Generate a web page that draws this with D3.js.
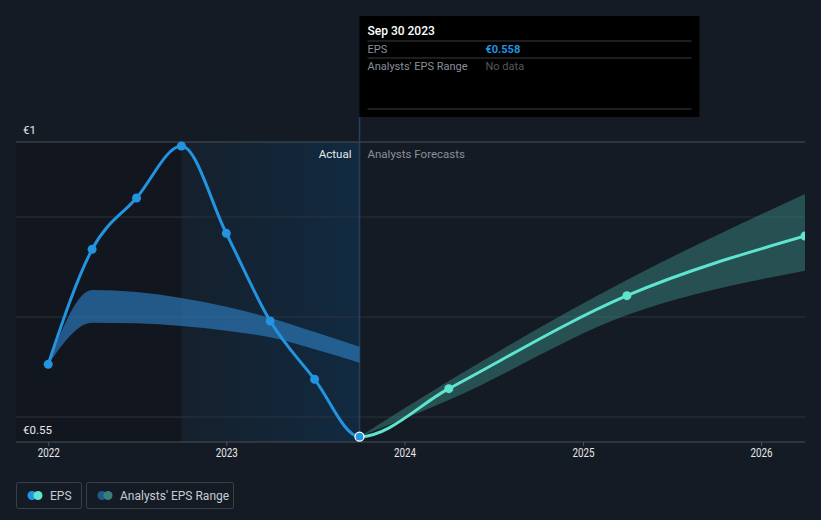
<!DOCTYPE html>
<html><head><meta charset="utf-8">
<script src="https://cdn.jsdelivr.net/npm/d3@7/dist/d3.min.js"></script>
<style>
html,body{margin:0;padding:0;background:#151b25;}
svg{display:block;font-family:Roboto,"Noto Sans",sans-serif;}
</style></head><body>
<svg id="c" width="821" height="520"></svg>
<script>
// ---- data ----
const actualDates = ["2021-12-31","2022-03-31","2022-06-30","2022-09-30","2022-12-31","2023-03-31","2023-06-30","2023-09-30"];
const actualEps   = [0.6665, 0.839, 0.916, 0.994, 0.863, 0.7315, 0.644, 0.558];
const pastRangeDates = ["2021-12-31","2022-03-31","2022-06-30","2022-09-30","2022-12-31","2023-03-31","2023-06-30","2023-09-30"];
const pastRangeLow   = [0.6665, 0.729, 0.728, 0.724, 0.717, 0.707, 0.689, 0.669];
const pastRangeHigh  = [0.6665, 0.778, 0.775, 0.766, 0.753, 0.736, 0.715, 0.693];
const forecastDates = ["2023-09-30","2024-03-31","2025-03-31","2026-03-31"];
const forecastEps   = [0.558, 0.630, 0.7695, 0.859];
const forecastLow   = [0.558, 0.613, 0.7405, 0.807];
const forecastHigh  = [0.558, 0.6415, 0.793, 0.922];
const xTickYears = [2022, 2023, 2024, 2025, 2026];
const yLabels = [{v:1, t:"€1"}, {v:0.55, t:"€0.55"}];
const gridValues = [1, 0.8875, 0.7375, 0.5875];
const tooltipDate = "Sep 30 2023";
const tooltipEps = "€0.558";

const parse = d3.timeParse("%Y-%m-%d");
const svg = d3.select("#c");
const L = 16, R = 805, T = 142, B = 442;

const x = d3.scaleTime().domain([parse("2021-10-26"), parse("2026-03-31")]).range([L, R]);
const y = d3.scaleLinear().domain([0.55, 1]).range([B, T]);

const lastActual = parse(actualDates[actualDates.length-1]);
const hlStart = parse("2022-09-30");
const xs = x(lastActual);

const defs = svg.append("defs");
defs.append("clipPath").attr("id","clipA").append("rect").attr("x",L).attr("y",0).attr("width",xs-L).attr("height",B+6);
defs.append("clipPath").attr("id","clipF").append("rect").attr("x",xs).attr("y",0).attr("width",R-xs).attr("height",B+6);
defs.append("clipPath").attr("id","clip").append("rect").attr("x",L).attr("y",0).attr("width",R-L).attr("height",B+6);
const g1 = defs.append("linearGradient").attr("id","hl").attr("x1","0").attr("x2","1").attr("y1","0").attr("y2","0");
g1.append("stop").attr("offset","0").attr("stop-color","#15202c");
g1.append("stop").attr("offset","1").attr("stop-color","#112a40");

// dark past region
svg.append("rect").attr("x",L).attr("y",T).attr("width",x(hlStart)-L).attr("height",B-T).attr("fill","#12161f");
// highlight region
svg.append("rect").attr("x",x(hlStart)).attr("y",T).attr("width",xs-x(hlStart)).attr("height",B-T).attr("fill","url(#hl)");

// gridlines
svg.append("g").selectAll("line").data(gridValues).join("line")
  .attr("x1",L).attr("x2",R).attr("y1",d=>y(d)).attr("y2",d=>y(d))
  .attr("stroke", (d,i)=> i===0 ? "#4a505a" : "#2c323d").attr("stroke-width",1);

// x axis
const xAxisG = svg.append("g").attr("transform",`translate(0,${B})`);
xAxisG.append("line").attr("x1",L).attr("x2",R).attr("stroke","#4a505a");
xAxisG.selectAll("g.t").data(xTickYears).join("g").attr("class","t")
  .attr("transform",d=>`translate(${x(new Date(d,0,1))},0)`)
  .each(function(d){
    const g=d3.select(this);
    g.append("line").attr("y1",0).attr("y2",4).attr("stroke","#4a505a");
    g.append("text").attr("y",15).attr("text-anchor","middle").attr("fill","#e6e8eb").attr("font-size",12)
      .attr("textLength",22).attr("lengthAdjust","spacingAndGlyphs").text(d);
  });

// y labels
svg.append("g").selectAll("text").data(yLabels).join("text")
  .attr("x",23).attr("y",d=>y(d.v)-8).attr("fill","#e6e8eb").attr("font-size",11.5).text(d=>d.t);

// cursor line
svg.append("line").attr("x1",xs).attr("x2",xs).attr("y1",117).attr("y2",B)
  .attr("stroke","#24405c").attr("stroke-width",1.5);

const plot = svg.append("g").attr("clip-path","url(#clip)");

// past analysts range
const pastRange = pastRangeDates.map((d,i)=>({d:parse(d), lo:pastRangeLow[i], hi:pastRangeHigh[i]}));
plot.append("path").datum(pastRange)
  .attr("d", d3.area().curve(d3.curveMonotoneX).x(d=>x(d.d)).y0(d=>y(d.lo)).y1(d=>y(d.hi)))
  .attr("fill","#2b76b5").attr("fill-opacity",0.7);

// forecast range
const fc = forecastDates.map((d,i)=>({d:parse(d), v:forecastEps[i], lo:forecastLow[i], hi:forecastHigh[i]}));
plot.append("path").datum(fc)
  .attr("d", d3.area().curve(d3.curveMonotoneX).x(d=>x(d.d)).y0(d=>y(d.lo)).y1(d=>y(d.hi)))
  .attr("fill","#3a8580").attr("fill-opacity",0.5);

// combined series so the curve is smooth through the junction
const act = actualDates.map((d,i)=>({d:parse(d), v:actualEps[i]}));
const all = act.concat(fc.slice(1).map(d=>({d:d.d, v:d.v})));
const lineGen = d3.line().curve(d3.curveMonotoneX).x(d=>x(d.d)).y(d=>y(d.v));
svg.append("g").attr("clip-path","url(#clipA)").append("path").datum(all)
  .attr("d", lineGen).attr("fill","none").attr("stroke","#2394e0").attr("stroke-width",3);
svg.append("g").attr("clip-path","url(#clipF)").append("path").datum(all)
  .attr("d", lineGen).attr("fill","none").attr("stroke","#5ee4cf").attr("stroke-width",3);

const marks = svg.append("g").attr("clip-path","url(#clip)");
marks.append("g").selectAll("circle").data(act.slice(0,-1)).join("circle")
  .attr("cx",d=>x(d.d)).attr("cy",d=>y(d.v)).attr("r",4.5).attr("fill","#2394e0");
marks.append("g").selectAll("circle").data(fc.slice(1)).join("circle")
  .attr("cx",d=>x(d.d)).attr("cy",d=>y(d.v)).attr("r",4.5).attr("fill","#5ee4cf");
const lastPt = act[act.length-1];
marks.append("circle").attr("cx",x(lastPt.d)).attr("cy",y(lastPt.v)).attr("r",4.5)
  .attr("fill","#2394e0").attr("stroke","#ffffff").attr("stroke-width",1.3);

// Actual / Forecast labels
svg.append("text").attr("x",xs-8).attr("y",158).attr("text-anchor","end")
  .attr("fill","#e6e8eb").attr("font-size",11.5).text("Actual");
svg.append("text").attr("x",xs+8).attr("y",158)
  .attr("fill","#8a8f98").attr("font-size",11.5).text("Analysts Forecasts");

// tooltip
const tt = svg.append("g");
tt.append("rect").attr("x",xs).attr("y",16).attr("width",340).attr("height",101).attr("fill","#000000");
tt.append("text").attr("x",xs+8).attr("y",35).attr("fill","#ffffff").attr("font-size",12).attr("font-weight",500).text(tooltipDate);
[41,58,109].forEach(yy=>tt.append("line").attr("x1",xs+8).attr("x2",xs+332).attr("y1",yy).attr("y2",yy).attr("stroke","#3a3d42"));
tt.append("text").attr("x",xs+8).attr("y",53).attr("fill","#8a8f98").attr("font-size",11).text("EPS");
tt.append("text").attr("x",xs+126).attr("y",53).attr("fill","#2394e0").attr("font-size",11).attr("font-weight",700).text(tooltipEps);
tt.append("text").attr("x",xs+8).attr("y",70).attr("fill","#8a8f98").attr("font-size",11).text("Analysts' EPS Range");
tt.append("text").attr("x",xs+126).attr("y",70).attr("fill","#55595f").attr("font-size",11).text("No data");

// legend
const lg = svg.append("g");
lg.append("rect").attr("x",16.5).attr("y",482.5).attr("width",65).attr("height",26).attr("rx",2).attr("fill","none").attr("stroke","#3a3f48");
lg.append("circle").attr("cx",32).attr("cy",495.5).attr("r",4.5).attr("fill","#2394e0");
lg.append("circle").attr("cx",38).attr("cy",495.5).attr("r",4.5).attr("fill","#5ee4cf");
lg.append("text").attr("x",50).attr("y",499.5).attr("fill","#c9ccd1").attr("font-size",12).text("EPS");
lg.append("rect").attr("x",86.5).attr("y",482.5).attr("width",147).attr("height",26).attr("rx",2).attr("fill","none").attr("stroke","#3a3f48");
lg.append("circle").attr("cx",102).attr("cy",495.5).attr("r",4.5).attr("fill","#1f5a8a");
lg.append("circle").attr("cx",108).attr("cy",495.5).attr("r",4.5).attr("fill","#3a7e7a");
lg.append("text").attr("x",120).attr("y",499.5).attr("fill","#c9ccd1").attr("font-size",12).text("Analysts' EPS Range");
</script>
</body></html>
